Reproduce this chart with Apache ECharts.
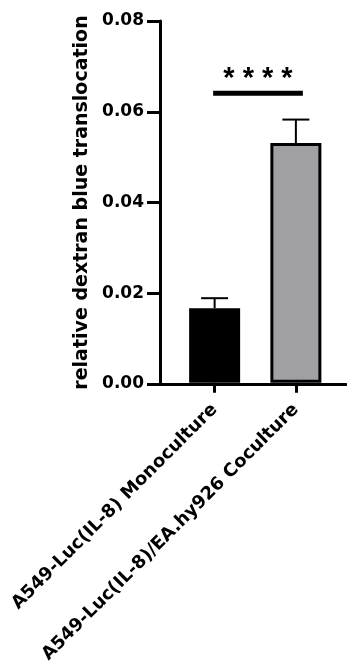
<!DOCTYPE html>
<html>
<head>
<meta charset="utf-8">
<script src="https://cdn.jsdelivr.net/npm/echarts@6/dist/echarts.min.js"></script>
<style>
  html, body { margin: 0; padding: 0; background: #fff; }
  #container { width: 347px; height: 666px; }
</style>
</head>
<body>
<div id="container"></div>
<script>
var dom = document.getElementById('container');
var myChart = echarts.init(dom);

// data
var categories = ['A549-Luc(IL-8) Monoculture', 'A549-Luc(IL-8)/EA.hy926 Coculture'];
var means = [0.0165, 0.0530];
var errors = [0.0022, 0.0052];
var barColors = ['#000000', '#a0a0a4'];
var yTicks = [0, 0.02, 0.04, 0.06, 0.08];
var sigLevel = 0.064;
var sigText = '* * * *';

var FONT = 'DejaVu Sans, sans-serif';
var STAR_FONT = 'Liberation Sans, Arial, sans-serif';

var option = {
    backgroundColor: '#fff',
    animation: false,
    grid: [
        // grid 0 only carries the y axis and the full length x baseline
        { left: 160, right: 1, top: 21, bottom: 282 },
        // grid 1 holds the bars
        { left: 174, right: 10.5, top: 21, bottom: 282 }
    ],
    xAxis: [
        {
            gridIndex: 0,
            type: 'value',
            min: 0,
            max: 1,
            axisLine: { show: true, onZero: false, lineStyle: { color: '#000', width: 3 } },
            axisTick: { show: false },
            axisLabel: { show: false },
            splitLine: { show: false }
        },
        {
            gridIndex: 1,
            type: 'category',
            data: categories,
            axisLine: { show: false },
            axisTick: { show: true, alignWithLabel: true, length: 10, lineStyle: { color: '#000', width: 3 } },
            axisLabel: {
                rotate: 45,
                margin: 24,
                interval: 0,
                color: '#000',
                fontFamily: FONT,
                fontWeight: 'bold',
                fontSize: 18
            }
        }
    ],
    yAxis: [
        {
            gridIndex: 0,
            type: 'value',
            min: yTicks[0],
            max: yTicks[yTicks.length - 1],
            interval: 0.02,
            name: 'relative dextran blue translocation',
            nameLocation: 'middle',
            nameGap: 59,
            nameTextStyle: { color: '#000', fontFamily: FONT, fontWeight: 'bold', fontSize: 19 },
            axisLine: { show: true, lineStyle: { color: '#000', width: 3 } },
            axisTick: { show: true, length: 13, lineStyle: { color: '#000', width: 3 } },
            axisLabel: {
                margin: 16,
                color: '#000',
                fontFamily: FONT,
                fontWeight: 'bold',
                fontSize: 17,
                formatter: function (v) { return v.toFixed(2); }
            },
            splitLine: { show: false }
        },
        {
            gridIndex: 1,
            type: 'value',
            min: yTicks[0],
            max: yTicks[yTicks.length - 1],
            show: false
        }
    ],
    series: [
        {
            type: 'bar',
            xAxisIndex: 1,
            yAxisIndex: 1,
            barWidth: 51,
            data: means.map(function (v, i) {
                return {
                    value: v,
                    itemStyle: { color: barColors[i], borderColor: '#000', borderWidth: 3 }
                };
            }),
            z: 2
        },
        {
            // error bars (upper only)
            type: 'custom',
            xAxisIndex: 1,
            yAxisIndex: 1,
            data: means.map(function (v, i) { return [i, v, v + errors[i]]; }),
            renderItem: function (params, api) {
                var base = api.coord([api.value(0), api.value(1)]);
                var top = api.coord([api.value(0), api.value(2)]);
                var half = 13.5;
                return {
                    type: 'group',
                    children: [
                        { type: 'line', shape: { x1: base[0], y1: base[1], x2: top[0], y2: top[1] },
                          style: { stroke: '#000', lineWidth: 2 } },
                        { type: 'line', shape: { x1: top[0] - half, y1: top[1], x2: top[0] + half, y2: top[1] },
                          style: { stroke: '#000', lineWidth: 2 } }
                    ]
                };
            },
            z: 1
        },
        {
            // significance bar and stars
            type: 'custom',
            xAxisIndex: 1,
            yAxisIndex: 1,
            data: [[0, 1, sigLevel]],
            renderItem: function (params, api) {
                var p1 = api.coord([api.value(0), api.value(2)]);
                var p2 = api.coord([api.value(1), api.value(2)]);
                var x1 = p1[0] - 1.5, x2 = p2[0] + 7;
                return {
                    type: 'group',
                    children: [
                        { type: 'line', shape: { x1: x1, y1: p1[1], x2: x2, y2: p1[1] },
                          style: { stroke: '#000', lineWidth: 5 } },
                        { type: 'text', x: (x1 + x2) / 2, y: p1[1] - 14,
                          style: { text: sigText, fill: '#000', font: 'bold 29px ' + STAR_FONT,
                                   align: 'center', verticalAlign: 'middle' } }
                    ]
                };
            },
            z: 3
        }
    ]
};

if (option && typeof option === 'object') {
    myChart.setOption(option);
}
</script>
</body>
</html>
